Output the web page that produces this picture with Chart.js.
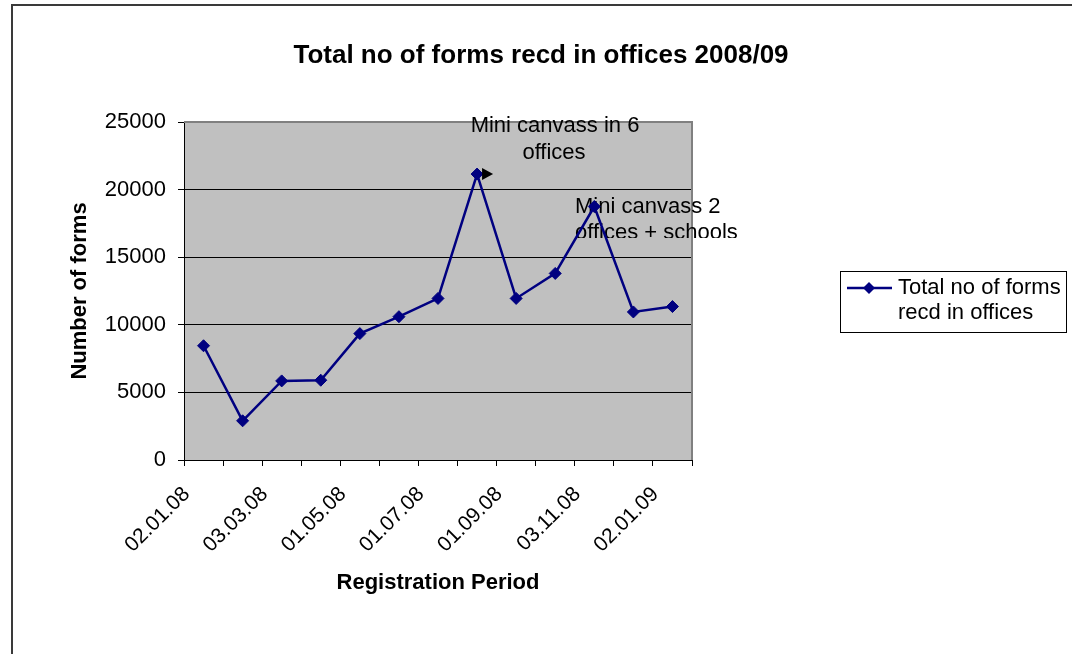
<!DOCTYPE html>
<html><head><meta charset="utf-8">
<script src="https://cdn.jsdelivr.net/npm/chart.js@4.4.1/dist/chart.umd.min.js"></script>
<style>html,body{margin:0;padding:0;background:#fff;overflow:hidden}canvas{display:block}</style>
</head><body>
<canvas id="c" width="1072" height="654"></canvas>
<script>
const categories = ['02.01.08','01.02.08','03.03.08','01.04.08','01.05.08','02.06.08','01.07.08','01.08.08','01.09.08','01.10.08','03.11.08','01.12.08','02.01.09'];
const formsReceived = [8450, 2900, 5850, 5900, 9350, 10600, 11950, 21150, 11950, 13800, 18750, 10950, 11350];
const yTicks = [0, 5000, 10000, 15000, 20000, 25000];
const seriesName = 'Total no of forms recd in offices';
const chartTitle = 'Total no of forms recd in offices 2008/09';
const xTitle = 'Registration Period';
const yTitle = 'Number of forms';
const note1 = ['Mini canvass in 6', 'offices'];
const note2 = ['Mini canvass 2', 'offices + schools'];
const legendLines = ['Total no of forms', 'recd in offices'];

const FONT = "'Liberation Sans', Arial, sans-serif";
const NAVY = '#000080';

const decor = {
  id: 'decor',
  beforeDraw(chart) {
    const {ctx, chartArea: a} = chart;
    ctx.save();
    ctx.fillStyle = '#fff';
    ctx.fillRect(0, 0, chart.width, chart.height);
    ctx.fillStyle = '#C0C0C0';
    ctx.fillRect(a.left, a.top, a.right - a.left, a.bottom - a.top);
    ctx.fillStyle = '#000';
    ctx.font = 'bold 26px ' + FONT;
    ctx.textAlign = 'center';
    ctx.textBaseline = 'middle';
    ctx.fillText(chartTitle, 541, 56);
    ctx.restore();
  },
  beforeDatasetsDraw(chart) {
    const {ctx, chartArea: a} = chart;
    ctx.save();
    ctx.strokeStyle = '#808080';
    ctx.lineWidth = 2;
    ctx.beginPath();
    ctx.moveTo(a.left, a.top); ctx.lineTo(a.right, a.top); ctx.lineTo(a.right, a.bottom);
    ctx.stroke();
    ctx.fillStyle = '#000';
    ctx.font = '22px ' + FONT;
    ctx.textBaseline = 'middle';
    ctx.textAlign = 'center';
    ctx.fillText(note1[0], 555, 126);
    ctx.fillText(note1[1], 554, 153);
    ctx.save();
    ctx.beginPath();
    ctx.rect(0, 0, chart.width, 238);
    ctx.clip();
    ctx.textAlign = 'left';
    ctx.fillText(note2[0], 575, 207);
    ctx.fillText(note2[1], 575, 233);
    ctx.restore();
    ctx.restore();
  },
  afterDatasetsDraw(chart) {
    const {ctx, scales} = chart;
    const px = scales.x.getPixelForValue(7);
    const py = scales.y.getPixelForValue(formsReceived[7]);
    ctx.save();
    ctx.fillStyle = '#000';
    ctx.beginPath();
    ctx.moveTo(px + 5, py - 6);
    ctx.lineTo(px + 16, py);
    ctx.lineTo(px + 5, py + 6);
    ctx.closePath();
    ctx.fill();
    ctx.restore();
  },
  afterDraw(chart) {
    const {ctx} = chart;
    ctx.save();
    ctx.strokeStyle = '#3a3a3a';
    ctx.lineWidth = 2;
    ctx.beginPath();
    ctx.moveTo(12, chart.height); ctx.lineTo(12, 5); ctx.lineTo(chart.width, 5);
    ctx.stroke();
    ctx.strokeStyle = '#000';
    ctx.lineWidth = 1;
    ctx.strokeRect(840.5, 271.5, 226, 61);
    ctx.strokeStyle = NAVY;
    ctx.lineWidth = 2.5;
    ctx.beginPath();
    ctx.moveTo(847, 288); ctx.lineTo(892, 288);
    ctx.stroke();
    ctx.fillStyle = NAVY;
    ctx.beginPath();
    ctx.moveTo(869, 282); ctx.lineTo(875, 288); ctx.lineTo(869, 294); ctx.lineTo(863, 288);
    ctx.closePath();
    ctx.fill();
    ctx.fillStyle = '#000';
    ctx.font = '22px ' + FONT;
    ctx.textAlign = 'left';
    ctx.textBaseline = 'middle';
    ctx.fillText(legendLines[0], 898, 288);
    ctx.fillText(legendLines[1], 898, 313);
    ctx.restore();
  }
};

new Chart(document.getElementById('c'), {
  type: 'line',
  data: {
    labels: categories,
    datasets: [{
      label: seriesName,
      data: formsReceived,
      borderColor: NAVY,
      backgroundColor: NAVY,
      borderWidth: 2.5,
      pointStyle: 'rectRot',
      pointRadius: 6,
      pointHoverRadius: 6,
      pointBackgroundColor: NAVY,
      pointBorderColor: NAVY,
      pointBorderWidth: 1,
      tension: 0,
      fill: false
    }]
  },
  options: {
    responsive: false,
    animation: false,
    devicePixelRatio: 1,
    layout: { padding: { left: 0, top: 122, right: 380, bottom: 0 } },
    plugins: {
      legend: { display: false },
      tooltip: { enabled: false },
      title: { display: false }
    },
    scales: {
      x: {
        offset: true,
        grid: { display: true, drawOnChartArea: false, offset: true, color: '#000', tickColor: '#000', tickLength: 6, lineWidth: 1 },
        border: { color: '#000', width: 1 },
        ticks: {
          autoSkip: false, maxRotation: 45, minRotation: 45, color: '#000', padding: 16, labelOffset: -17,
          font: { family: FONT, size: 21 },
          callback: function (v, i) { return i % 2 === 0 ? this.getLabelForValue(v) : ''; }
        },
        title: { display: true, text: xTitle, color: '#000', font: { family: FONT, size: 22, weight: 'bold' }, padding: { top: 0, bottom: 58 } },
        afterFit: (s) => { s.height = 194; }
      },
      y: {
        min: 0, max: 25000,
        afterBuildTicks: (s) => { s.ticks = yTicks.map(v => ({ value: v })); },
        grid: { color: (c) => (c.tick && c.tick.value === 25000 ? '#808080' : '#000'), tickColor: '#000', tickLength: 6, lineWidth: 1 },
        border: { color: '#000', width: 1 },
        ticks: { color: '#000', padding: 12, font: { family: FONT, size: 22 }, callback: (v) => String(v) },
        title: { display: true, text: yTitle, color: '#000', font: { family: FONT, size: 22, weight: 'bold' }, padding: { top: 67, bottom: 0 } },
        afterFit: (s) => { s.width = 184; }
      }
    }
  },
  plugins: [decor]
});
</script>
</body></html>
